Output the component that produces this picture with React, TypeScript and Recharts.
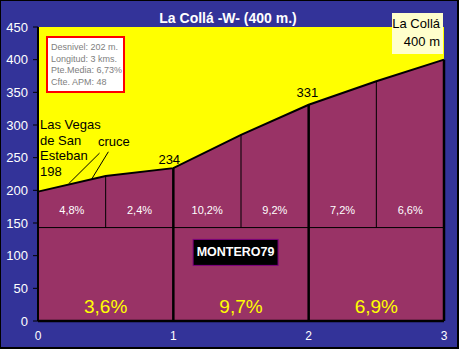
import React from 'react';
import {
  ComposedChart,
  Area,
  XAxis,
  YAxis,
  CartesianGrid,
  ReferenceLine,
  ReferenceDot,
} from 'recharts';

// ---- Data ----
const kmPoints = [0, 0.5, 1, 1.5, 2, 2.5, 3];
const elevations = [198, 222, 234, 285, 331, 367, 400];
const halfKmGrades = ['4,8%', '2,4%', '10,2%', '9,2%', '7,2%', '6,6%'];
const kmGrades = ['3,6%', '9,7%', '6,9%'];
const yTicks = [0, 50, 100, 150, 200, 250, 300, 350, 400, 450];
const xTicks = [0, 1, 2, 3];
const splitLevel = 143;
const infoLines = ['Desnivel:  202 m.', 'Longitud: 3 kms.', 'Pte.Media: 6,73%', 'Cfte. APM: 48'];
const titleText = 'La Collá -W- (400 m.)';
const summitLines = ['La Collá', '400 m'];
const startLines = ['Las Vegas', 'de San', 'Esteban', '198'];
const crossLabel = 'cruce';
const signature = 'MONTERO79';

const data = kmPoints.map((km, i) => ({ km, elev: elevations[i] }));

const FONT = '"Liberation Sans", Arial, sans-serif';
const BLUE = '#333399';

const MonteroLabel = (props: any) => {
  const { viewBox } = props;
  const cx = viewBox.x + (viewBox.width || 0) / 2;
  const cy = viewBox.y + (viewBox.height || 0) / 2;
  return (
    <g>
      <rect x={cx - 42.5} y={cy - 13} width={85} height={26} fill="#000" stroke="#800080" strokeWidth={1} />
      <text x={cx} y={cy} textAnchor="middle" dominantBaseline="central" fill="#fff" fontSize={12.5} fontWeight="bold" fontFamily={FONT}>
        {signature}
      </text>
    </g>
  );
};

// convert a pixel row in the reference to an elevation value (for annotation placement only)
function estimateY(px: number) {
  return Math.round((320.7 - px) / 0.651);
}

export default function App() {
  const labelStyle = { fontFamily: FONT };
  return (
    <div style={{ position: 'absolute', left: 0, top: 0, width: 459, height: 349, background: BLUE, fontFamily: FONT }}>
      <ComposedChart
        width={459}
        height={349}
        data={data}
        margin={{ top: 27, right: 15, left: 0, bottom: 0 }}
      >
        <CartesianGrid fill="#ffff00" fillOpacity={1} stroke="none" horizontal={false} vertical={false} />
        <XAxis
          dataKey="km"
          type="number"
          domain={[0, 3]}
          ticks={xTicks}
          height={28}
          axisLine={{ stroke: '#000', strokeWidth: 2.5 }}
          tickLine={false}
          tickMargin={4}
          tick={{ fill: '#fff', fontSize: 12, fontFamily: FONT }}
          interval={0}
        />
        <YAxis
          type="number"
          domain={[0, 450]}
          ticks={yTicks}
          width={38}
          axisLine={{ stroke: '#000', strokeWidth: 2 }}
          tickLine={{ stroke: '#000' }}
          tickSize={5}
          tickMargin={5}
          tick={{ fill: '#fff', fontSize: 13, fontFamily: FONT }}
          interval={0}
        />
        <Area
          type="linear"
          dataKey="elev"
          fill="#993366"
          fillOpacity={1}
          stroke="#000"
          strokeWidth={2}
          isAnimationActive={false}
          dot={false}
          activeDot={false}
        />
        <ReferenceLine
          segment={[{ x: 0, y: splitLevel }, { x: 3, y: splitLevel }]}
          stroke="#000"
          strokeWidth={1}
        />
        {kmPoints.map((km, i) => {
          if (km === 0) return null;
          const whole = Number.isInteger(km);
          return (
            <ReferenceLine
              key={'v' + km}
              segment={[{ x: km, y: whole ? 0 : splitLevel }, { x: km, y: elevations[i] }]}
              stroke="#000"
              strokeWidth={whole ? 2.5 : 1}
            />
          );
        })}
        <ReferenceLine segment={[{ x: 0.455, y: 257 }, { x: 0.226, y: 210 }]} stroke="#000" strokeWidth={1} />
        <ReferenceLine segment={[{ x: 0.52, y: 259 }, { x: 0.396, y: 217 }]} stroke="#000" strokeWidth={1} />
        {halfKmGrades.map((g, i) => (
          <ReferenceDot
            key={'h' + i}
            x={kmPoints[i] + 0.25}
            y={170}
            r={0}
            fill="none"
            stroke="none"
            label={{ value: g, position: 'center', fill: '#fff', fontSize: 11, style: labelStyle }}
          />
        ))}
        {kmGrades.map((g, i) => (
          <ReferenceDot
            key={'k' + i}
            x={i + 0.5}
            y={22}
            r={0}
            fill="none"
            stroke="none"
            label={{ value: g, position: 'center', fill: '#ffff00', fontSize: 19, style: labelStyle }}
          />
        ))}
        <ReferenceDot
          x={0.97}
          y={estimateY(159)}
          r={0}
          fill="none"
          stroke="none"
          label={{ value: String(elevations[2]), position: 'center', fill: '#000', fontSize: 13, style: labelStyle }}
        />
        <ReferenceDot
          x={1.99}
          y={estimateY(93)}
          r={0}
          fill="none"
          stroke="none"
          label={{ value: String(elevations[4]), position: 'center', fill: '#000', fontSize: 13, style: labelStyle }}
        />
        <ReferenceDot
          x={1.46}
          y={105}
          r={0}
          fill="none"
          stroke="none"
          label={<MonteroLabel />}
        />
      </ComposedChart>

      {/* Title */}
      <div style={{ position: 'absolute', left: 0, width: 456, top: 9, textAlign: 'center', color: '#fff', fontWeight: 'bold', fontSize: 14, lineHeight: '18px' }}>
        {titleText}
      </div>

      {/* Info box */}
      <div style={{ position: 'absolute', left: 46, top: 36, width: 79, height: 57, boxSizing: 'border-box', background: '#fff', border: '2px solid #ff0000', padding: '4px 0 0 3px', color: '#808080', fontSize: 9, lineHeight: '11.6px', whiteSpace: 'nowrap' }}>
        {infoLines.map((l, i) => (
          <div key={i}>{l}</div>
        ))}
      </div>

      {/* Summit box */}
      <div style={{ position: 'absolute', left: 392, top: 13, width: 51, height: 41, boxSizing: 'border-box', background: '#ffffcc', padding: '2px 3px 0 0', textAlign: 'right', color: '#000', fontSize: 13, lineHeight: '18px' }}>
        {summitLines.map((l, i) => (
          <div key={i}>{l}</div>
        ))}
      </div>

      {/* Start label */}
      <div style={{ position: 'absolute', left: 40, top: 117, color: '#000', fontSize: 13, lineHeight: '15.6px' }}>
        {startLines.map((l, i) => (
          <div key={i}>{l}</div>
        ))}
      </div>

      {/* cruce */}
      <div style={{ position: 'absolute', left: 98, top: 134, color: '#000', fontSize: 13, lineHeight: '16px' }}>{crossLabel}</div>

      {/* Outer border */}
      <div style={{ position: 'absolute', left: 0, top: 0, width: 459, height: 349, boxSizing: 'border-box', borderTop: '1px solid #000', borderLeft: '1px solid #000', borderRight: '2px solid #000', borderBottom: '2px solid #000', pointerEvents: 'none' }} />
    </div>
  );
}
